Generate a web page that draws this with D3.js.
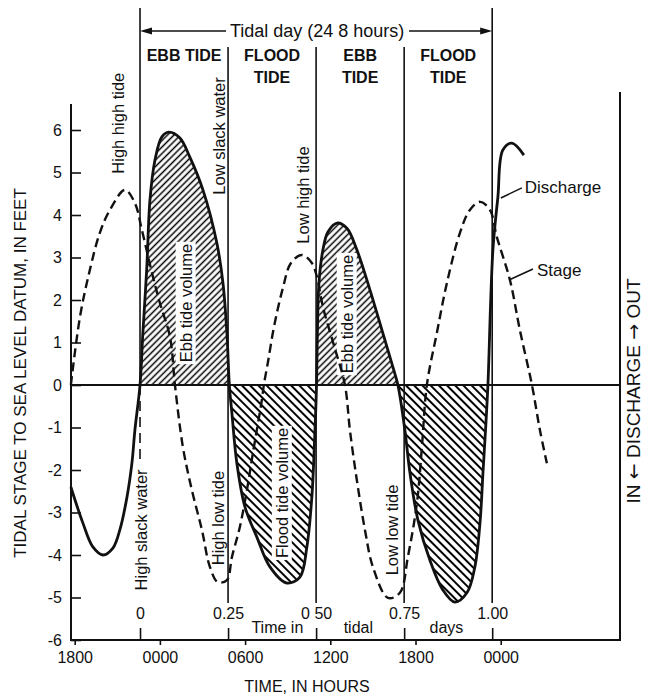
<!DOCTYPE html>
<html lang="en">
<head>
<meta charset="UTF-8">
<title>Tidal stage and discharge</title>
<style>
    body { margin: 0; background: #fff; }
    svg { display: block; }
    text { font-family: "Liberation Sans", Arial, Helvetica, sans-serif; fill: #111; }
    .curve { fill: none; stroke: #111; }
    .rule { stroke: #111; stroke-width: 1.6px; }
    .axis .domain { display: none; }
    .axis line { stroke: #111; stroke-width: 1.6px; }
    .axis text { font-size: 16px; font-family: "Liberation Sans", Arial, Helvetica, sans-serif; fill: #111; }
</style>
</head>
<body>
<svg width="652" height="694"></svg>
<script src="https://d3js.org/d3.v7.min.js"></script>
<script>
// hours counted from 1800 on the first day
var dischargeHours = [-0.27, 0.58, 1.28, 1.99, 2.69, 3.18, 3.68, 4.03, 4.24, 4.6, 4.8, 5.08, 5.3, 5.65, 6.14, 6.63, 7.41, 8.11, 9.03, 10.01, 10.44, 10.72, 10.89, 11.07, 11.42, 11.99, 12.83, 13.75, 14.94, 15.86, 16.35, 16.7, 16.92, 17.03, 17.09, 17.2, 17.48, 17.83, 18.47, 19.17, 19.87, 20.79, 21.7, 22.41, 22.76, 23.25, 23.61, 24.17, 25.01, 25.92, 26.77, 27.62, 28.18, 28.54, 28.75, 28.96, 29.1, 29.45, 29.8, 30.15, 30.79, 31.63];
var dischargeFeet = [-2.4, -3.25, -3.81, -4.0, -3.84, -3.41, -2.64, -1.84, -1.06, 0, 1.22, 2.78, 4.35, 5.29, 5.84, 5.95, 5.81, 5.36, 4.59, 3.34, 2.4, 1.22, 0, -0.66, -1.84, -2.87, -3.58, -4.28, -4.66, -4.52, -3.81, -2.64, -1.06, 0, 1.22, 2.4, 3.18, 3.6, 3.81, 3.69, 3.18, 2.24, 1.22, 0.42, 0, -1.06, -2.07, -3.18, -4.12, -4.82, -5.11, -4.89, -4.28, -3.25, -2.07, -0.89, 0, 3.18, 4.42, 5.53, 5.69, 5.41];
var stageHours = [-0.27, 0.37, 1.07, 1.77, 2.48, 3.54, 4.24, 4.73, 5.44, 6.0, 6.71, 7.06, 7.62, 8.25, 8.96, 9.52, 10.08, 10.72, 11.07, 11.63, 12.13, 12.55, 13.18, 13.32, 13.61, 14.03, 14.66, 15.23, 16.0, 16.7, 17.06, 17.48, 18.25, 19.03, 19.38, 19.87, 20.44, 21.0, 22.06, 22.9, 23.46, 24.1, 24.45, 24.8, 25.5, 26.21, 27.13, 27.83, 28.54, 29.24, 29.73, 30.65, 31.35, 32.2, 32.76, 33.25];
var stageFeet = [0, 1.6, 2.71, 3.58, 4.12, 4.59, 4.28, 3.65, 2.64, 1.93, 1.13, 0, -1.46, -2.47, -3.41, -4.28, -4.64, -4.59, -4.05, -3.34, -2.47, -1.6, -0.35, 0, 0.54, 1.36, 2.28, 2.87, 3.06, 2.87, 2.54, 1.84, 0.94, 0, -1.06, -2.24, -3.41, -4.28, -5.01, -4.89, -4.05, -2.78, -1.46, 0, 1.22, 2.4, 3.58, 4.12, 4.31, 4.12, 3.48, 2.47, 1.29, 0, -1.06, -1.84];

var feetTicks = [-6, -5, -4, -3, -2, -1, 0, 1, 2, 3, 4, 5, 6];
var hourTicks = [0, 6, 12, 18, 24, 30];
var hourLabels = ["1800", "0000", "0600", "1200", "1800", "0000"];

var tidalStart = 4.6, tidalLength = 24.8;
var dayFractions = [0, 0.25, 0.5, 0.75, 1];
var dayFractionLabels = ["0", "0.25", "0 50", "0.75", "1.00"];
var phaseNames = [["EBB TIDE"], ["FLOOD", "TIDE"], ["EBB", "TIDE"], ["FLOOD", "TIDE"]];

// rotated notes, placed at (hours, feet)
var notes = [
    { text: "High high tide", h: 3.04, ft: 6.16 },
    { text: "Low slack water", h: 10.15, ft: 5.86 },
    { text: "Ebb tide volume", h: 7.83, ft: 1.93, bg: true },
    { text: "Low high tide", h: 16.07, ft: 4.47 },
    { text: "Ebb tide volume", h: 19.17, ft: 1.67, bg: true },
    { text: "High slack water", h: 4.67, ft: -3.41, bg: true },
    { text: "High low tide", h: 10.08, ft: -3.13 },
    { text: "Flood tide volume", h: 14.6, ft: -2.54, bg: true },
    { text: "Low low tide", h: 22.33, ft: -3.41 }
];
var callouts = [
    { text: "Discharge", h: 31.69, ft: 4.52, from: [31.49, 4.64], to: [30.01, 4.4] },
    { text: "Stage", h: 32.55, ft: 2.56, from: [32.27, 2.73], to: [30.58, 2.47] }
];

var svg = d3.select("svg");
var x = d3.scaleLinear().domain([-0.26, 38.4]).range([71, 620]);
var y = d3.scaleLinear().domain([-6, 6]).range([640, 130]);
function dayX(f) { return x(tidalStart + f * tidalLength); }

var defs = svg.append("defs");
function hatch(id, gap, angle, width) {
    defs.append("pattern")
        .attr("id", id)
        .attr("patternUnits", "userSpaceOnUse")
        .attr("width", gap).attr("height", gap)
        .attr("patternTransform", "rotate(" + angle + ")")
        .append("line")
        .attr("x1", gap / 2).attr("x2", gap / 2)
        .attr("y1", -1).attr("y2", gap + 1)
        .attr("stroke", "#000").attr("stroke-width", width);
}
hatch("ebbHatch", 4.6, 45, 1.5);
hatch("floodHatch", 5.8, -45, 2);

var hatchFrom = dischargeHours[dischargeFeet.indexOf(0)];
var hatchTo = dischargeHours[dischargeFeet.lastIndexOf(0)];
defs.append("clipPath").attr("id", "ebbClip").append("rect")
    .attr("x", x(hatchFrom)).attr("width", x(hatchTo) - x(hatchFrom))
    .attr("y", 0).attr("height", y(0));
defs.append("clipPath").attr("id", "floodClip").append("rect")
    .attr("x", x(hatchFrom)).attr("width", x(hatchTo) - x(hatchFrom))
    .attr("y", y(0)).attr("height", 694 - y(0));

var discharge = dischargeHours.map(function (h, i) { return [h, dischargeFeet[i]]; });
var stage = stageHours.map(function (h, i) { return [h, stageFeet[i]]; });
var smooth = d3.curveCatmullRom.alpha(0.5);

var area = d3.area()
    .x(function (d) { return x(d[0]); })
    .y0(y(0))
    .y1(function (d) { return y(d[1]); })
    .curve(smooth);
var line = d3.line()
    .x(function (d) { return x(d[0]); })
    .y(function (d) { return y(d[1]); })
    .curve(smooth);

svg.append("path").datum(discharge).attr("d", area)
    .attr("fill", "url(#ebbHatch)").attr("clip-path", "url(#ebbClip)");
svg.append("path").datum(discharge).attr("d", area)
    .attr("fill", "url(#floodHatch)").attr("clip-path", "url(#floodClip)");

var bgLayer = svg.append("g");
var ruleLayer = svg.append("g");
var curveLayer = svg.append("g");
var textLayer = svg.append("g");

// tidal day dividers
dayFractions.forEach(function (f) {
    var edge = (f === 0 || f === 1);
    ruleLayer.append("line").attr("class", "rule")
        .attr("x1", dayX(f)).attr("x2", dayX(f))
        .attr("y1", edge ? 8 : 47)
        .attr("y2", f === 0 ? y(0) : 603);
});
ruleLayer.append("line").attr("class", "rule")
    .attr("x1", dayX(0)).attr("x2", dayX(0))
    .attr("y1", y(0)).attr("y2", 462)
    .attr("stroke-dasharray", "10,6");

// frame
ruleLayer.append("line").attr("class", "rule").style("stroke-width", "2px")
    .attr("x1", x.range()[0]).attr("x2", x.range()[0]).attr("y1", 104).attr("y2", y(-6));
ruleLayer.append("line").attr("class", "rule").style("stroke-width", "2px")
    .attr("x1", x.range()[1]).attr("x2", x.range()[1]).attr("y1", 92).attr("y2", y(-6));
ruleLayer.append("line").attr("class", "rule").style("stroke-width", "2px")
    .attr("x1", x.range()[0] - 1).attr("x2", x.range()[1] + 1).attr("y1", y(-6)).attr("y2", y(-6));
ruleLayer.append("line").attr("class", "rule").style("stroke-width", "2px")
    .attr("x1", x.range()[0]).attr("x2", x.range()[1]).attr("y1", y(0)).attr("y2", y(0));

// axes
ruleLayer.append("g").attr("class", "axis")
    .attr("transform", "translate(" + x.range()[0] + ",0)")
    .call(d3.axisLeft(y).tickValues(feetTicks).tickSizeInner(-10).tickSizeOuter(0)
        .tickPadding(9).tickFormat(function (d) { return String(d); }));
ruleLayer.append("g").attr("class", "axis")
    .attr("transform", "translate(0," + y(-6) + ")")
    .call(d3.axisBottom(x).tickValues(hourTicks).tickSize(5).tickPadding(7)
        .tickFormat(function (d, i) { return hourLabels[i]; }));
ruleLayer.append("g").attr("class", "axis")
    .attr("transform", "translate(0," + y(-6) + ")")
    .call(d3.axisTop(x).tickValues(dayFractions.map(function (f) { return tidalStart + f * tidalLength; }))
        .tickSize(12).tickPadding(9)
        .tickFormat(function (d, i) { return dayFractionLabels[i]; }));

// curves
curveLayer.append("path").datum(stage).attr("class", "curve")
    .attr("d", line).attr("stroke-width", 2.4).attr("stroke-dasharray", "9,5");
curveLayer.append("path").datum(discharge).attr("class", "curve")
    .attr("d", line).attr("stroke-width", 2.8).attr("stroke-linejoin", "round");

// header
var arrowY = 31;
textLayer.append("text").attr("x", dayX(0.5) + 1).attr("y", 37)
    .attr("text-anchor", "middle").style("font-size", "18px")
    .text("Tidal day (24 8 hours)");
ruleLayer.append("line").attr("class", "rule")
    .attr("x1", dayX(0) + 4).attr("x2", 226).attr("y1", arrowY).attr("y2", arrowY);
ruleLayer.append("line").attr("class", "rule")
    .attr("x1", 409).attr("x2", dayX(1) - 4).attr("y1", arrowY).attr("y2", arrowY);
ruleLayer.append("path").attr("fill", "#111")
    .attr("d", "M" + dayX(0) + "," + arrowY + "l12,-3.5v7z");
ruleLayer.append("path").attr("fill", "#111")
    .attr("d", "M" + dayX(1) + "," + arrowY + "l-12,-3.5v7z");

phaseNames.forEach(function (lines, i) {
    lines.forEach(function (s, j) {
        textLayer.append("text")
            .attr("x", dayX(0.125 + 0.25 * i)).attr("y", 61 + j * 22)
            .attr("text-anchor", "middle")
            .style("font-size", "16px").style("font-weight", "bold")
            .text(s);
    });
});

// notes
notes.forEach(function (d) {
    var tf = "translate(" + x(d.h) + "," + y(d.ft) + ") rotate(-90)";
    var t = textLayer.append("text").attr("transform", tf)
        .attr("text-anchor", "middle").attr("dy", "0.35em")
        .style("font-size", "16.5px").text(d.text);
    if (d.bg) {
        var b = t.node().getBBox();
        bgLayer.append("rect").attr("transform", tf)
            .attr("x", b.x - 2).attr("y", b.y - 1)
            .attr("width", b.width + 4).attr("height", b.height + 2)
            .attr("fill", "#fff");
    }
});

callouts.forEach(function (d) {
    ruleLayer.append("line").attr("class", "rule").style("stroke-width", "1.5px")
        .attr("x1", x(d.from[0])).attr("y1", y(d.from[1]))
        .attr("x2", x(d.to[0])).attr("y2", y(d.to[1]));
    textLayer.append("text").attr("x", x(d.h)).attr("y", y(d.ft))
        .style("font-size", "17px").text(d.text);
});

// bottom captions
[["Time in", 0.39], ["tidal", 0.62], ["days", 0.87]].forEach(function (d) {
    textLayer.append("text").attr("x", dayX(d[1])).attr("y", 633)
        .attr("text-anchor", "middle").style("font-size", "16px").text(d[0]);
});
textLayer.append("text").attr("x", 307).attr("y", 692)
    .attr("text-anchor", "middle").style("font-size", "16px").text("TIME, IN HOURS");

textLayer.append("text").attr("transform", "translate(20,373) rotate(-90)")
    .attr("text-anchor", "middle").attr("dy", "0.35em").style("font-size", "17px")
    .text("TIDAL STAGE TO SEA LEVEL DATUM, IN FEET");
var rightTitle = textLayer.append("text").attr("transform", "translate(633,391) rotate(-90)")
    .attr("text-anchor", "middle").attr("dy", "0.35em").style("font-size", "19px");
rightTitle.append("tspan").text("IN ");
rightTitle.append("tspan").style("font-family", "'DejaVu Sans'").text("\u2190");
rightTitle.append("tspan").text(" DISCHARGE ");
rightTitle.append("tspan").style("font-family", "'DejaVu Sans'").text("\u2192");
rightTitle.append("tspan").text(" OUT");
</script>
</body>
</html>
